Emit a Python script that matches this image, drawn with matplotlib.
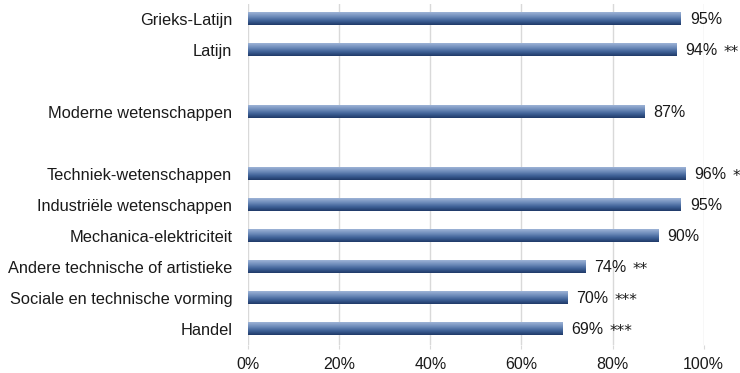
import numpy as np
import matplotlib
matplotlib.use("Agg")
from matplotlib import pyplot as plt
from matplotlib.colors import LinearSegmentedColormap

# Data
categories = [
    "Grieks-Latijn",
    "Latijn",
    "Moderne wetenschappen",
    "Techniek-wetenschappen",
    "Industriële wetenschappen",
    "Mechanica-elektriciteit",
    "Andere technische of artistieke",
    "Sociale en technische vorming",
    "Handel",
]
values = [95, 94, 87, 96, 95, 90, 74, 70, 69]
stars = ["", "**", "", "*", "", "", "**", "***", "***"]
groups = [0, 0, 1, 2, 2, 2, 2, 2, 2]
xticks = [0, 20, 40, 60, 80, 100]

plt.rcParams["font.family"] = ["Liberation Sans", "DejaVu Sans"]
plt.rcParams["font.size"] = 11.5
txt_color = "#1a1a1a"

# slot positions: one empty slot between groups
pos = []
slot = 0
for i, g in enumerate(groups):
    if i > 0 and g != groups[i - 1]:
        slot += 1
    pos.append(slot)
    slot += 1
nslots = slot

fig = plt.figure(figsize=(7.4, 3.73), dpi=100)
ax = fig.add_axes([0.3351, 0.0764, 0.6159, 0.9142])

cmap = LinearSegmentedColormap.from_list(
    "bar", ["#9db3d6", "#6f8dbb", "#3f6197", "#1f3a68"]
)
grad = np.linspace(0, 1, 64).reshape(-1, 1)
h = 0.4
for y, v, s in zip(pos, values, stars):
    ax.imshow(grad, cmap=cmap, aspect="auto", origin="upper",
              extent=(0, v, y + h / 2, y - h / 2), zorder=2,
              interpolation="bilinear")
    ax.annotate(f"{v}%", (v, y), xytext=(6.5, 0), textcoords="offset points",
                va="center", ha="left", color=txt_color)
    if s:
        ax.annotate(s, (v, y), xytext=(34, -2), textcoords="offset points",
                    va="center", ha="left", color=txt_color,
                    family="DejaVu Sans", fontsize=11,
                    annotation_clip=False)

ax.set_xlim(0, 100)
ax.set_ylim(nslots - 0.5, -0.5)
ax.set_yticks(pos)
ax.set_yticklabels(categories, color=txt_color, fontsize=11.8)
ax.set_xticks(xticks)
ax.set_xticklabels([f"{t}%" for t in xticks], color=txt_color)
ax.tick_params(axis="y", length=0, pad=11.3)
ax.tick_params(axis="x", length=3, color="#d9d9d9", pad=6)
ax.xaxis.grid(True, color="#d9d9d9", linewidth=1)
ax.set_axisbelow(True)
for sp in ax.spines.values():
    sp.set_visible(False)

fig.savefig("out.png", dpi=100)
